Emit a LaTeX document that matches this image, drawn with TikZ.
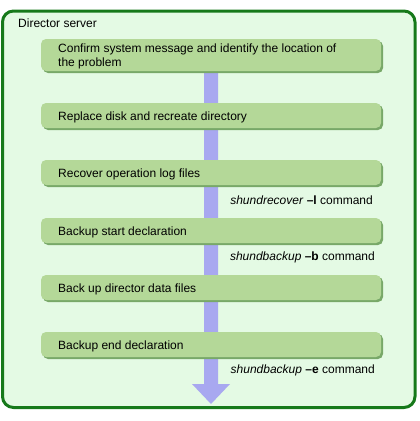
\documentclass[tikz,border=0pt]{standalone}
\usepackage{fontspec}
\setmainfont{Liberation Sans}
\definecolor{outerfill}{HTML}{E4FAE4}
\definecolor{outerdraw}{HTML}{16791A}
\definecolor{boxfill}{HTML}{B4D898}
\definecolor{boxshadow}{HTML}{78A868}
\definecolor{arrowcol}{HTML}{A8A8F0}
\tikzset{
  steptext/.style={anchor=west, inner sep=0pt, align=left, font=\fontsize{12}{14}\selectfont},
  cmdlabel/.style={anchor=east, font=\fontsize{12}{14}\selectfont, inner sep=0pt},
  boxbody/.style={fill=boxfill, rounded corners=5pt},
  boxshade/.style={fill=boxshadow, rounded corners=5pt},
}
\begin{document}
\begin{tikzpicture}[x=1pt,y=-1pt]
\useasboundingbox (0,0) rectangle (420,421);
% outer container
\draw[outerdraw, line width=3pt, fill=outerfill, rounded corners=11pt] (2.5,11) rectangle (415,407.5);
\node[steptext] (title) at (18,23) {Director server};
% flow arrow
\coordinate (arrtip) at (211,404);
\fill[arrowcol] (204,72) -- (218,72) -- (218,384) -- (230,384) -- (arrtip) -- (192,384) -- (204,384) -- cycle;
% boxes with shadows
\foreach \y/\h in {39/32,103/25,160/25,218/25,275/25,332/25}{
  \path[boxshade] (43,\y+2) rectangle ++(340,\h);
  \path[boxbody] (41,\y) rectangle ++(340,\h);
}
\node[steptext] (b1) at (58,56.5) {Confirm system message and identify the location of\\the problem};
\node[steptext] (b2) at (58,117) {Replace disk and recreate directory};
\node[steptext] (b3) at (58,174) {Recover operation log files};
\node[steptext] (b4) at (58,232) {Backup start declaration};
\node[steptext] (b5) at (58,289) {Back up director data files};
\node[steptext] (b6) at (58,346) {Backup end declaration};
% command labels
\node[cmdlabel] (c1) at (373,200) {\textit{shundrecover} \textbf{–l} command};
\node[cmdlabel] (c2) at (375,257) {\textit{shundbackup} \textbf{–b} command};
\node[cmdlabel] (c3) at (375,370) {\textit{shundbackup} \textbf{–e} command};
\end{tikzpicture}
\end{document}
